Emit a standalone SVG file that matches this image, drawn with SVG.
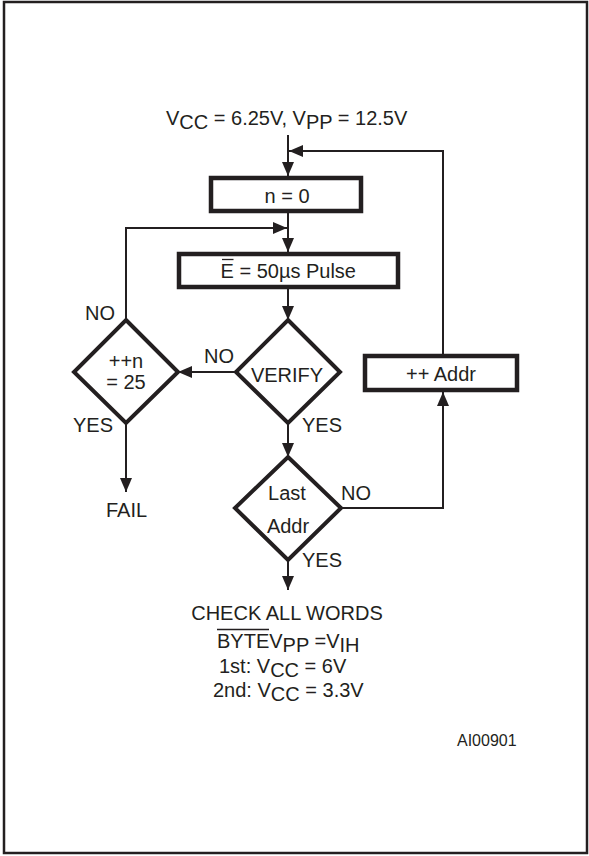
<svg xmlns="http://www.w3.org/2000/svg" width="589" height="856" viewBox="0 0 589 856">
<style>
text{font-family:"Liberation Sans",Arial,sans-serif;font-size:20px;fill:#231f20}
.c{text-anchor:middle}
.box{fill:#fff;stroke:#231f20;stroke-width:4.5}
.dia{fill:#fff;stroke:#231f20;stroke-width:4;stroke-linejoin:miter}
.ln{fill:none;stroke:#231f20;stroke-width:2}
.ob{stroke:#231f20;stroke-width:1.3}
</style>
<defs>
<marker id="ah" markerUnits="userSpaceOnUse" markerWidth="14" markerHeight="12" refX="14" refY="6" orient="auto">
<path d="M0,0 L14,6 L0,12 z" fill="#231f20"/>
</marker>
</defs>
<rect x="4" y="2" width="583" height="851" fill="#fff" stroke="#231f20" stroke-width="2.5"/>

<g id="connectors">
<line class="ln" x1="288" y1="135" x2="288" y2="176" marker-end="url(#ah)"/>
<polyline class="ln" points="443,356 443,151 289,151" marker-end="url(#ah)"/>
<line class="ln" x1="288" y1="213" x2="288" y2="252" marker-end="url(#ah)"/>
<polyline class="ln" points="126,320 126,228 287,228" marker-end="url(#ah)"/>
<line class="ln" x1="288" y1="289" x2="288" y2="320" marker-end="url(#ah)"/>
<line class="ln" x1="236" y1="372" x2="178" y2="372" marker-end="url(#ah)"/>
<line class="ln" x1="126" y1="423" x2="126" y2="492" marker-end="url(#ah)"/>
<line class="ln" x1="288" y1="423" x2="288" y2="457" marker-end="url(#ah)"/>
<polyline class="ln" points="341,508 443,508 443,392" marker-end="url(#ah)"/>
<line class="ln" x1="288" y1="560" x2="288" y2="590" marker-end="url(#ah)"/>
</g>

<g id="supply">
<text x="166" y="125" xml:space="preserve">V<tspan dy="4">CC</tspan><tspan dy="-4"> = 6.25V, V</tspan><tspan dy="4">PP</tspan><tspan dy="-4"> = 12.5V</tspan></text>
</g>

<g id="n0">
<rect class="box" x="211" y="178" width="150" height="33"/>
<text class="c" x="287" y="203">n = 0</text>
</g>

<g id="pulse">
<rect class="box" x="179" y="254" width="219" height="33"/>
<text x="220.5" y="278">E = 50µs Pulse</text>
<line class="ob" x1="222" y1="259.5" x2="233.5" y2="259.5"/>
</g>

<g id="verify">
<polygon class="dia" points="288,320 340,372 288,423 236,372"/>
<text class="c" x="287" y="382">VERIFY</text>
</g>

<g id="count">
<polygon class="dia" points="126,320 178,372 126,423 74,372"/>
<text class="c" x="126" y="368">++n</text>
<text class="c" x="126" y="389">= 25</text>
</g>

<g id="last">
<polygon class="dia" points="288,457 341,508 288,560 235,508"/>
<text class="c" x="287" y="500">Last</text>
<text class="c" x="288" y="533">Addr</text>
</g>

<g id="addr">
<rect class="box" x="365" y="356" width="152" height="34"/>
<text class="c" x="441" y="381">++ Addr</text>
</g>

<g id="labels">
<text x="85" y="320">NO</text>
<text x="204" y="363">NO</text>
<text x="73" y="432">YES</text>
<text x="302" y="432">YES</text>
<text x="106" y="517">FAIL</text>
<text x="341" y="500">NO</text>
<text x="302" y="567">YES</text>
</g>

<g id="check">
<text class="c" x="287" y="620">CHECK ALL WORDS</text>
<text x="217" y="648" xml:space="preserve">BYTEV<tspan dy="4">PP</tspan><tspan dy="-4"> =V</tspan><tspan dy="4">IH</tspan></text>
<line class="ob" x1="217" y1="629.5" x2="269" y2="629.5"/>
<text x="219" y="673" xml:space="preserve">1st: V<tspan dy="4">CC</tspan><tspan dy="-4"> = 6V</tspan></text>
<text x="213" y="697" xml:space="preserve">2nd: V<tspan dy="4">CC</tspan><tspan dy="-4"> = 3.3V</tspan></text>
</g>

<text x="457" y="746" style="font-size:16px">AI00901</text>
</svg>
